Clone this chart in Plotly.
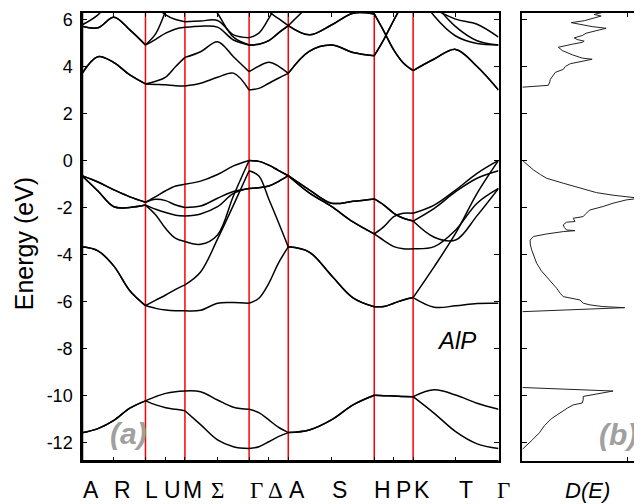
import plotly.graph_objects as go

# ---------------- k-path (path length units) ----------------
k = [0, 16, 32, 48, 63.7, 74, 84, 94, 103.3, 119, 136, 152, 167.7,
     177.5, 187.5, 197, 207, 228, 250.3, 272, 293.3, 303, 313, 322.5, 332.3,
     353.5, 375, 396.5, 418]
seg_bounds = [0, 4, 8, 12, 16, 20, 24, 28]

sym_labels = ["A", "R", "L", "U", "M", "Σ", "Γ", "Δ", "A", "S", "H", "P", "K", "T", "Γ"]
sym_k = [0, 32, 63.7, 84, 103.3, 136, 167.7, 187.5, 207, 250.3, 293.3, 313, 332.3, 375, 418]
greek = {"Σ", "Γ", "Δ"}
label_shift = [9, 9, 6, 7, 8, 0, 7, 7, 9, 8, 8, 10, 9, 10, 5]
red_k = [63.7, 103.3, 167.7, 207, 293.3, 332.3]
yticks = [-12, -10, -8, -6, -4, -2, 0, 2, 4, 6]
ytick_text = ["-12", "-10", "-8", "-6", "-4", "-2", "0", "2", "4", "6"]

H = 8.0  # off-scale (above window)

# ---------------- band energies (eV) on k grid ----------------
S1 = [-11.6, -11.42, -11.07, -10.55, -10.24, -10.06, -9.92, -9.85, -9.82,
      -9.85, -10.2, -10.51, -10.6, -10.74, -11.05, -11.36, -11.59,
      -11.48, -11.05, -10.41, -10.0, -10.02, -10.03, -10.05, -10.06,
      -9.77, -9.99, -10.34, -10.6]
S2 = [-11.6, -11.42, -11.07, -10.55, -10.24, -10.41, -10.53, -10.6, -10.66,
      -11.25, -11.9, -12.19, -12.27, -12.19, -11.98, -11.76, -11.59,
      -11.48, -11.05, -10.41, -10.0, -10.02, -10.03, -10.05, -10.06,
      -10.77, -11.55, -12.07, -12.27]
V1 = [-0.65, -0.92, -1.25, -1.55, -1.78, -1.54, -1.29, -1.09, -1.01,
      -0.88, -0.6, -0.23, 0.0, -0.04, -0.2, -0.42, -0.65,
      -1.25, -1.82, -1.74, -1.64, -1.9, -2.25, -2.46, -2.58,
      -2.04, -1.33, -0.76, -0.44]
V2 = [-0.65, -0.92, -1.25, -1.55, -1.78, -1.65, -1.71, -1.9, -2.0,
      -1.94, -1.61, -1.32, -1.19, -1.16, -1.09, -0.9, -0.65,
      -1.25, -1.82, -1.74, -1.64, -1.9, -2.25, -2.46, -2.58,
      -3.27, -3.39, -2.35, -1.19]
V3 = [-0.65, -1.3, -1.97, -2.0, -1.9, -2.08, -2.22, -2.33, -2.37,
      -2.28, -1.97, -1.4, -1.19, -1.16, -1.09, -0.9, -0.65,
      -1.38, -1.96, -2.62, -3.13, -2.82, -2.39, -2.25, -2.25,
      -1.9, -1.26, -0.55, 0.0]
V4 = [-0.65, -1.3, -1.97, -2.0, -1.9, -2.32, -2.9, -3.32, -3.45,
      -3.57, -3.17, -1.5, 0.0, -0.04, -0.2, -0.42, -0.65,
      -1.38, -1.96, -2.62, -3.13, -3.41, -3.67, -3.76, -3.76,
      -3.67, -2.96, -1.82, -1.19]
V5 = [-3.68, -3.85, -4.5, -5.55, -6.18, -5.95, -5.73, -5.49, -5.3,
      -4.75, -3.35, -1.9, -0.44, -0.66, -1.65, -2.62, -3.68,
      -3.9, -4.9, -5.85, -6.23, -6.22, -6.08, -5.94, -5.84,
      -4.52, -3.1, -1.4, 0.0]
V6 = [-3.68, -3.85, -4.5, -5.55, -6.18, -6.3, -6.37, -6.4, -6.4,
      -6.38, -6.08, -6.05, -6.08, -5.87, -5.23, -4.38, -3.68,
      -3.9, -4.9, -5.85, -6.23, -6.22, -6.08, -5.94, -5.84,
      -6.25, -6.19, -6.09, -6.08]
CA = [3.70, 4.42, 4.17, 3.64, 3.26, 3.24, 3.22, 3.18, 3.17,
      3.29, 3.54, 3.72, 3.00, 3.07, 3.29, 3.50, 3.71,
      4.65, 4.92, 4.60, 4.46, 5.16, 5.98, 6.70, 7.30,
      7.6, 7.6, 7.5, 7.2]
CB = [3.70, 4.42, 4.17, 3.64, 3.26, 3.37, 3.55, 4.00, 4.39,
      4.63, 5.06, 4.42, 3.78, 4.02, 4.18, 4.02, 3.71,
      4.65, 4.92, 4.60, 4.46, 5.16, 5.98, 6.70, 7.30,
      7.6, 7.8, 7.6, 7.4]
CC = [5.72, 5.65, 6.10, 5.56, 4.92, 5.16, 5.42, 5.60, 5.67,
      5.72, 5.68, 5.13, 4.92, 4.95, 5.10, 5.42, 5.74,
      5.35, 5.77, 6.27, 6.24, 5.50, 4.70, 4.15, 3.83,
      4.32, 4.73, 4.00, 3.00]
CD = [5.72, 5.65, 6.10, 5.56, 4.92, 5.40, 6.35, 7.2, 7.8,
      H, H, H, H, H, H, H, H, H, H, H, H, H, H, H, H, H, H, H, H]
CD2 = [5.77, 6.2, 7.0, 7.5, 7.8, H, H, H, H,
       H, H, H, H, H, H, H, H, H, H, H, H, H, H, H, H, H, H, H, H]
CE = [H, H, H, H, 7.6, 6.6, 6.2, 6.0, 5.91,
      5.94, 5.96, 5.35, 5.23, 5.42, 6.05, 6.8, 7.3,
      H, H, H, H, H, H, H, H, H, H, H, H]
CF = [H, H, H, H, H, H, H, H, H,
      7.3, 6.27, 5.25, 4.92, 4.95, 5.10, 5.42, 5.74,
      6.6, 7.4, 7.8, H, H, H, H, H, H, H, H, H]
CG = [H, H, H, H, H, H, H, H, H, H, H, H, H,
      7.0, 6.35, 6.05, 5.74,
      5.35, 5.77, 6.27, 6.24, 5.50, 4.70, 4.15, 3.83,
      4.32, 4.73, 4.00, 3.00]
CK1 = [H] * 24 + [7.5, 6.15, 5.3, 4.98, 4.92]
CK2 = [H] * 24 + [8.0, 6.7, 5.7, 5.1, 4.92]
CK3 = [H] * 24 + [7.8, 6.5, 6.02, 5.8, 5.25]

bands = [S1, S2, V1, V2, V3, V4, V5, V6, CA, CB, CC, CD, CD2, CE, CF, CG, CK1, CK2, CK3]

# ---------------- density of states ----------------
dos_cb_E = [3.12, 3.16, 3.2, 3.35, 3.45, 3.6, 3.75, 3.88, 4.0, 4.12, 4.22, 4.31,
            4.36, 4.5, 4.68, 4.82, 4.95, 5.03, 5.08, 5.15, 5.22, 5.32, 5.42,
            5.52, 5.63, 5.7, 5.8, 5.87, 5.95, 6.05, 6.15, 6.22, 6.3]
dos_cb_D = [0, 10, 26, 27.5, 28, 30.5, 33, 41, 43, 48, 58, 70,
            60, 50, 40, 36, 50, 60, 62, 55, 52, 60, 64,
            75, 84, 70, 58, 49, 62, 72, 79, 72, 80]
dos_vb_E = [0.0, -0.2, -0.4, -0.6, -0.76, -0.97, -1.18, -1.37, -1.48, -1.56, -1.61,
            -1.68, -1.82, -1.96, -2.11, -2.25, -2.39, -2.46, -2.6, -2.63, -2.74,
            -2.85, -2.96, -2.99, -3.03, -3.13, -3.24, -3.39, -3.6, -3.81, -4.1,
            -4.38, -4.7, -4.95, -5.15, -5.23, -5.3, -5.44, -5.66, -5.8, -5.94,
            -6.01, -6.08, -6.15, -6.22, -6.27, -6.44]
dos_vb_D = [0, 5, 11, 18, 24.3, 41, 57.7, 74.3, 91, 105, 118,
            104.3, 91, 81, 67.7, 64, 61, 51, 52.7, 44.3, 41,
            42, 44.3, 52.7, 41, 24.3, 11, 7.7, 8, 9.3, 11.5,
            14.3, 19, 24.3, 28, 29.3, 31, 34.3, 38, 41, 57.7,
            59.3, 61, 67.7, 80, 102.7, 0]
dos_s_E = [-9.67, -9.82, -10.05, -10.2, -10.33, -10.41, -10.55, -10.75, -11.0,
           -11.3, -11.6, -11.9, -12.15, -12.3]
dos_s_D = [0, 91, 61, 61, 60, 51, 45, 38, 29, 22, 17, 10, 4, 0]

# ---------------- figure ----------------
def seg_xy(vals):
    xs, ys = [], []
    for a, b in zip(seg_bounds[:-1], seg_bounds[1:]):
        xs += k[a:b + 1] + [None]
        ys += vals[a:b + 1] + [None]
    return xs, ys

fig = go.Figure()
for b in bands:
    xs, ys = seg_xy(b)
    fig.add_trace(go.Scatter(x=xs, y=ys, mode="lines",
                             line=dict(color="black", width=1.5, shape="spline"),
                             connectgaps=False, hoverinfo="skip", showlegend=False,
                             xaxis="x", yaxis="y"))

for E, D in [(dos_cb_E, dos_cb_D), (dos_vb_E, dos_vb_D), (dos_s_E, dos_s_D)]:
    fig.add_trace(go.Scatter(x=D, y=E, mode="lines",
                             line=dict(color="#222222", width=1),
                             hoverinfo="skip", showlegend=False,
                             xaxis="x2", yaxis="y2"))

XA = 0.74777  # right edge of panel (a) in paper units
shapes = []
for xk in red_k:
    shapes.append(dict(type="line", xref="x", yref="paper", x0=xk, x1=xk, y0=0, y1=1,
                       line=dict(color="#ff0000", width=1.5), layer="below"))
# heavier left and bottom frame of panel (a)
shapes.append(dict(type="line", xref="paper", yref="paper", x0=0, x1=0, y0=0, y1=1,
                   line=dict(color="black", width=2.5)))
shapes.append(dict(type="line", xref="paper", yref="paper", x0=0, x1=XA, y0=0, y1=0,
                   line=dict(color="black", width=2.2)))

SANS = "Liberation Sans, Arial, sans-serif"
SERIF = "Liberation Serif, Times New Roman, serif"
ann = []
for lab, xk, sh in zip(sym_labels, sym_k, label_shift):
    fam = SERIF if lab in greek else SANS
    ann.append(dict(text=lab, x=xk, xref="x", xshift=sh, y=-0.065, yref="paper",
                    showarrow=False, xanchor="center", yanchor="middle",
                    font=dict(family=fam, size=23, color="black")))
ann.append(dict(text="<i>D(E)</i>", x=0.907, xref="paper", y=-0.065, yref="paper",
                showarrow=False, xanchor="center", yanchor="middle",
                font=dict(family=SANS, size=22, color="black")))
ann.append(dict(text="Energy (eV)", x=-0.105, xref="paper", y=0.485, yref="paper",
                showarrow=False, textangle=-90, xanchor="center", yanchor="middle",
                font=dict(family=SANS, size=25, color="black")))
ann.append(dict(text="<i>AlP</i>", x=0.672, xref="paper", y=0.268, yref="paper",
                showarrow=False, xanchor="center", yanchor="middle",
                font=dict(family=SANS, size=24, color="black")))
ann.append(dict(text="<b><i>(a)</i></b>", x=0.083, xref="paper", y=0.062, yref="paper",
                showarrow=False, xanchor="center", yanchor="middle",
                font=dict(family=SANS, size=30, color="#a0a0a0")))
ann.append(dict(text="<b><i>(b)</i></b>", x=0.962, xref="paper", y=0.060, yref="paper",
                showarrow=False, xanchor="center", yanchor="middle",
                font=dict(family=SANS, size=30, color="#a0a0a0")))

axis_common = dict(showline=True, linecolor="black", linewidth=1.5, mirror="ticks",
                   ticks="inside", tickcolor="black", showgrid=False, zeroline=False)

# page body has an 8px default margin: figure is 634x496 placed at (8, 8)
fig.update_layout(
    width=634, height=496,
    margin=dict(l=74, r=1, t=5, b=43),
    paper_bgcolor="white", plot_bgcolor="white",
    xaxis=dict(domain=[0, XA], range=[0, 418], tickvals=sym_k, showticklabels=False,
               ticklen=4, tickwidth=1, **axis_common),
    yaxis=dict(range=[-12.8, 6.28], tickvals=yticks, ticktext=ytick_text,
               ticklen=5, tickwidth=1,
               tickfont=dict(family=SANS, size=18, color="black"),
               ticklabelstandoff=4, **axis_common),
    xaxis2=dict(domain=[0.7907, 1], range=[0, 117], anchor="y2", tickvals=[105],
                showticklabels=False, ticklen=4, tickwidth=1, **axis_common),
    yaxis2=dict(range=[-12.8, 6.28], anchor="x2", tickvals=yticks, showticklabels=False,
                ticklen=5, tickwidth=1, **axis_common),
    shapes=shapes, annotations=ann,
)

fig.write_html("out.html")
